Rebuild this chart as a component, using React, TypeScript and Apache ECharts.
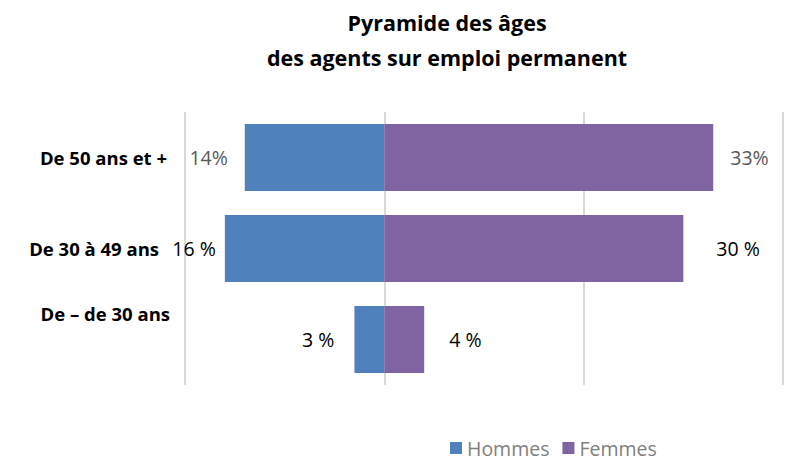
import React, { useEffect, useRef } from "react";
import * as echarts from "echarts";

const categories = ["De 50 ans et +", "De 30 à 49 ans", "De – de 30 ans"];
const hommes = [14, 16, 3];
const femmes = [33, 30, 4];
const hommesLabels = ["14%", "16 %", "3 %"];
const femmesLabels = ["33%", "30 %", "4 %"];
const axisTicks = [-20, 0, 20, 40];

// styling per label (not data)
const hommesLabelStyle = [
  { distance: 17, color: "#595959" },
  { distance: 9, color: "#000000" },
  { distance: 20, color: "#000000" },
];
const femmesLabelStyle = [
  { distance: 17, color: "#595959" },
  { distance: 33, color: "#000000" },
  { distance: 25, color: "#000000" },
];

export default function App() {
  const ref = useRef<HTMLDivElement>(null);
  useEffect(() => {
    if (!ref.current) return;
    const chart = echarts.init(ref.current, undefined, { renderer: "svg" });
    const font = "'Open Sans', 'Liberation Sans', sans-serif";
    chart.setOption({
      animation: false,
      backgroundColor: "#ffffff",
      title: {
        text: "Pyramide des âges\ndes agents sur emploi permanent",
        left: 442,
        textAlign: "center",
        top: 0,
        textStyle: {
          fontFamily: font,
          fontWeight: "bold",
          fontSize: 21.5,
          lineHeight: 35,
          color: "#000000",
        },
      },
      legend: {
        data: ["Hommes", "Femmes"],
        left: 450,
        top: 438,
        padding: 0,
        itemWidth: 12,
        itemHeight: 12,
        itemGap: 13,
        icon: "rect",
        textStyle: {
          fontFamily: "'Open Sans', sans-serif",
          fontSize: 19.5,
          lineHeight: 20,
          color: "#7f7f7f",
        },
      },
      grid: { left: 185, right: 3, top: 112, bottom: 461 - 385 },
      xAxis: {
        type: "value",
        min: axisTicks[0],
        max: axisTicks[axisTicks.length - 1],
        interval: 20,
        axisLabel: { show: false },
        axisLine: { show: false },
        axisTick: { show: false },
        splitLine: { show: true, lineStyle: { color: "#d9d9d9", width: 2 } },
      },
      yAxis: {
        type: "category",
        inverse: true,
        data: categories,
        axisLine: { show: false },
        axisTick: { show: false },
        axisLabel: {
          margin: 18,
          formatter: (v: string, i: number) => (i === 2 ? `{up|${v}}` : i === 1 ? `{m|${v}}` : `{n|${v}}`),
          rich: {
            n: {
              fontFamily: font,
              fontWeight: "bold",
              fontSize: 18.5,
              color: "#000000",
            },
            m: {
              fontFamily: font,
              fontWeight: "bold",
              fontSize: 18.5,
              color: "#000000",
              padding: [0, 8, 0, 0],
            },
            up: {
              fontFamily: font,
              fontWeight: "bold",
              fontSize: 18.5,
              color: "#000000",
              padding: [0, -3, 52, 0],
            },
          },
        },
      },
      series: [
        {
          name: "Hommes",
          type: "bar",
          stack: "total",
          barWidth: 67,
          itemStyle: { color: "#4f81bd" },
          data: hommes.map((v, i) => ({
            value: -v,
            label: {
              show: true,
              position: "left",
              distance: hommesLabelStyle[i].distance,
              color: hommesLabelStyle[i].color,
              formatter: () => hommesLabels[i],
            },
          })),
          label: { fontFamily: font, fontSize: 19.5 },
        },
        {
          name: "Femmes",
          type: "bar",
          stack: "total",
          barWidth: 67,
          itemStyle: { color: "#8064a2" },
          data: femmes.map((v, i) => ({
            value: v,
            label: {
              show: true,
              position: "right",
              distance: femmesLabelStyle[i].distance,
              color: femmesLabelStyle[i].color,
              formatter: () => femmesLabels[i],
            },
          })),
          label: { fontFamily: font, fontSize: 19.5 },
        },
      ],
    });
    return () => chart.dispose();
  }, []);
  return <div ref={ref} style={{ width: 786, height: 461, position: "absolute", left: 0, top: 0 }} />;
}
